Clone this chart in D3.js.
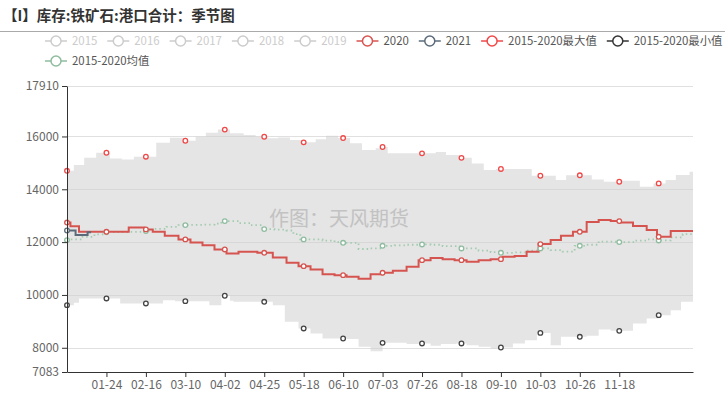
<!DOCTYPE html>
<html>
<head>
<meta charset="utf-8">
<script src="https://cdn.jsdelivr.net/npm/d3@7"></script>
<style>
body { margin: 0; background: #fff; }
svg { display: block; font-family: "Microsoft YaHei", "Noto Sans CJK SC", "Noto Sans", sans-serif; }
</style>
</head>
<body>
<svg id="chart" width="725" height="401"></svg>
<script>
var title = "【I】库存:铁矿石:港口合计：季节图";
var watermark = "作图：天风期货";
var year = 2020;

var xTickLabels = ["01-24", "02-16", "03-10", "04-02", "04-25", "05-18", "06-10", "07-03",
    "07-26", "08-18", "09-10", "10-03", "10-26", "11-18"];
var symbolDates = ["01-01"].concat(xTickLabels, ["12-11"]);
var yTicks = [7083, 8000, 10000, 12000, 14000, 16000, 17910];

var legendNames = ["2015", "2016", "2017", "2018", "2019", "2020", "2021",
    "2015-2020最大值", "2015-2020最小值", "2015-2020均值"];
var legendOn = [false, false, false, false, false, true, true, true, true, true];
var legendColors = ["#ccc", "#ccc", "#ccc", "#ccc", "#ccc", "#d9534f", "#5b6b7a", "#f04848", "#333", "#8fbc9f"];

// [day of year, value] -- weekly steps
var s2020 = [[0, 12740], [2, 12600], [7, 12390], [36, 12557], [45, 12481], [50, 12390], [57, 12239],
    [65, 12102], [72, 11988], [79, 11886], [86, 11723], [93, 11572], [100, 11633], [111, 11595],
    [120, 11420], [128, 11216], [135, 11091], [142, 10966], [149, 10788], [156, 10750], [163, 10686],
    [170, 10610], [177, 10788], [184, 10838], [190, 10913], [198, 11066], [205, 11318], [212, 11394],
    [219, 11356], [226, 11318], [233, 11254], [240, 11318], [247, 11356], [254, 11443], [261, 11470],
    [268, 11633], [275, 11924], [282, 12076], [288, 12239], [295, 12390], [303, 12758], [310, 12833],
    [317, 12795], [323, 12746], [330, 12606], [338, 12455], [344, 12201], [352, 12417]];
var s2021 = [[0, 12440], [5, 12270], [12, 12370], [14, 12370]];
var sMax = [[0, 14700], [4, 14917], [10, 15195], [17, 15383], [25, 15170], [32, 15132], [39, 15233],
    [52, 15761], [60, 15951], [68, 15837], [75, 15989], [81, 16140], [88, 16260], [95, 16117],
    [103, 16053], [110, 15989], [117, 15928], [123, 15960], [130, 15864], [138, 15776], [145, 15890],
    [151, 16027], [158, 15940], [165, 15739], [172, 15485], [180, 15549], [183, 15600], [187, 15360],
    [215, 15409], [221, 15295], [229, 15190], [236, 14980], [243, 14727], [250, 14770], [271, 14512],
    [285, 14348], [291, 14530], [306, 14374], [313, 14285], [323, 14323], [334, 14096], [342, 14222],
    [349, 14348], [355, 14538], [363, 14663]];
var sMin = [[0, 9614], [4, 9700], [7, 9867], [31, 9678], [56, 9803], [63, 9765], [83, 9614],
    [90, 9970], [95, 9777], [97, 9740], [120, 9614], [127, 8981], [135, 8731], [142, 8541],
    [149, 8352], [163, 8330], [170, 8035], [177, 7872], [184, 8186], [198, 8140], [205, 8163],
    [212, 8073], [218, 8140], [227, 8163], [233, 8100], [240, 8035], [247, 7973], [253, 8010],
    [260, 8163], [267, 8288], [274, 8564], [282, 8099], [288, 8415], [303, 8452], [310, 8694],
    [317, 8641], [330, 8920], [338, 9110], [345, 9235], [352, 9424], [358, 9740]];
var sAvg = [[0, 12076], [2, 12100], [9, 12200], [16, 12290], [23, 12380], [37, 12390], [44, 12417],
    [51, 12500], [58, 12580], [65, 12644], [72, 12650], [79, 12660], [86, 12700], [90, 12795],
    [100, 12720], [107, 12640], [114, 12492], [121, 12470], [128, 12440], [132, 12300], [136, 12102],
    [149, 12060], [156, 12000], [160, 11975], [170, 11740], [177, 11760], [184, 11861], [191, 11880],
    [198, 11900], [205, 11912], [212, 11900], [219, 11850], [229, 11760], [240, 11680], [247, 11620],
    [253, 11595], [261, 11610], [268, 11680], [275, 11760], [282, 11700], [289, 11640], [296, 11861],
    [303, 11900], [310, 12020], [320, 12000], [331, 12060], [338, 12100], [345, 12063], [352, 12180],
    [359, 12300]];

var svg = d3.select("#chart"),
    width = +svg.attr("width"),
    height = +svg.attr("height");

var parse = d3.timeParse("%Y-%m-%d");
var jan1 = parse(year + "-01-01");
var lastDay = d3.timeDay.count(jan1, parse(year + "-12-31"));
function dayOf(label) { return d3.timeDay.count(jan1, parse(year + "-" + label)); }

var x = d3.scaleLinear().domain([0, lastDay]).range([67, 693]);
var y = d3.scaleLinear().domain([yTicks[0], yTicks[yTicks.length - 1]]).range([372, 86]);

var byDay = d3.bisector(function (d) { return d[0]; }).right;
function valueAt(series, day) {
    var i = byDay(series, day) - 1;
    return series[Math.max(i, 0)][1];
}
// extend last step to the end of the axis
function toEnd(series) {
    return series.concat([[lastDay, series[series.length - 1][1]]]);
}

// title
svg.append("text")
    .attr("x", 3).attr("y", 21)
    .attr("font-size", 14.5).attr("font-weight", "bold").attr("fill", "#333")
    .text(title);
svg.append("line")
    .attr("x1", 0).attr("x2", width).attr("y1", 31.5).attr("y2", 31.5)
    .attr("stroke", "#aaa");

// legend
var legend = svg.append("g");
var lx = 45, ly = 41;
legendNames.forEach(function (name, i) {
    var g = legend.append("g");
    var t = g.append("text")
        .attr("x", 27).attr("y", 4.2)
        .attr("font-size", 11.4)
        .attr("fill", legendOn[i] ? "#555" : "#ccc")
        .text(name);
    var w = 27 + t.node().getComputedTextLength();
    if (lx + w > width) { lx = 45; ly += 20; }
    g.attr("transform", "translate(" + lx + "," + ly + ")");
    g.append("line").attr("x1", 0).attr("x2", 22).attr("y1", 0).attr("y2", 0)
        .attr("stroke", legendColors[i]).attr("stroke-width", 1.5);
    g.append("circle").attr("cx", 11).attr("cy", 0).attr("r", 5)
        .attr("fill", "#fff").attr("stroke", legendColors[i]).attr("stroke-width", 1.5);
    lx += w + 10;
});

// grid
svg.append("g").selectAll("line")
    .data(yTicks.slice(1))
    .enter().append("line")
    .attr("x1", 67).attr("x2", 693)
    .attr("y1", function (d) { return Math.round(y(d)) + 0.5; })
    .attr("y2", function (d) { return Math.round(y(d)) + 0.5; })
    .attr("stroke", "#e0e0e0");

// band between min and max
var bandDays = d3.sort(Array.from(new Set(sMax.map(function (d) { return d[0]; })
    .concat(sMin.map(function (d) { return d[0]; }), [lastDay]))));
svg.append("path")
    .datum(bandDays)
    .attr("fill", "#d0d0d0").attr("fill-opacity", 0.55)
    .attr("d", d3.area()
        .curve(d3.curveStepAfter)
        .x(function (d) { return x(d); })
        .y0(function (d) { return y(valueAt(sMin, d)); })
        .y1(function (d) { return y(valueAt(sMax, d)); }));

// watermark
svg.append("text")
    .attr("x", 339).attr("y", 226)
    .attr("text-anchor", "middle")
    .attr("font-size", 20).attr("fill", "#c2c2c2")
    .text(watermark);

var line = d3.line()
    .curve(d3.curveStepAfter)
    .x(function (d) { return x(d[0]); })
    .y(function (d) { return y(d[1]); });

svg.append("path").datum(toEnd(sAvg))
    .attr("fill", "none").attr("stroke", "#a3cbb0").attr("stroke-width", 1.8)
    .attr("stroke-dasharray", "1.5,3").attr("d", line);

svg.append("path").datum(toEnd(s2020))
    .attr("fill", "none").attr("stroke", "#d65450").attr("stroke-width", 2).attr("d", line);

svg.append("path").datum(s2021)
    .attr("fill", "none").attr("stroke", "#5b6b7a").attr("stroke-width", 2).attr("d", line);

// symbols
var symDays = symbolDates.map(dayOf);
function drawSymbols(series, color, fill, endDay) {
    svg.append("g").selectAll("circle")
        .data(symDays.filter(function (d) { return d <= endDay; }))
        .enter().append("circle")
        .attr("cx", function (d) { return x(d); })
        .attr("cy", function (d) { return y(valueAt(series, d)); })
        .attr("r", 2.3)
        .attr("fill", fill).attr("stroke", color).attr("stroke-width", 1.3);
}
drawSymbols(sMax, "#f04848", "#fff", lastDay);
drawSymbols(sMin, "#444", "#fff", lastDay);
drawSymbols(sAvg, "#8fbc9f", "#fff", lastDay);
drawSymbols(s2020, "#d65450", "#fff", lastDay);
drawSymbols(s2021, "#5b6b7a", "#fff", s2021[s2021.length - 1][0]);

// axes
var tickDays = xTickLabels.map(dayOf);
var xAxis = svg.append("g")
    .attr("transform", "translate(0,372)")
    .call(d3.axisBottom(x).tickValues(tickDays)
        .tickFormat(function (d, i) { return xTickLabels[i]; })
        .tickSize(5).tickSizeOuter(0).tickPadding(3));
var yAxis = svg.append("g")
    .attr("transform", "translate(67,0)")
    .call(d3.axisLeft(y).tickValues(yTicks).tickFormat(d3.format("d"))
        .tickSize(5).tickSizeOuter(0).tickPadding(3));

[xAxis, yAxis].forEach(function (a) {
    a.attr("font-family", null).attr("font-size", 12);
    a.select(".domain").attr("stroke", "#333");
    a.selectAll(".tick line").attr("stroke", "#333");
    a.selectAll(".tick text").attr("fill", "#666");
});
</script>
</body>
</html>
